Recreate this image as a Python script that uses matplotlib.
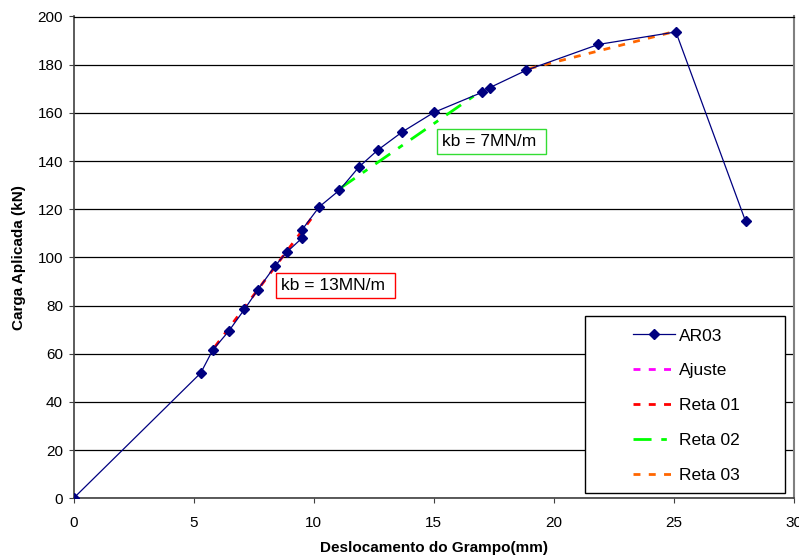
import matplotlib
matplotlib.use("Agg")
import matplotlib.pyplot as plt
from matplotlib.patches import Rectangle

plt.rcParams['font.family'] = ['Liberation Sans', 'DejaVu Sans']

# AR03 measured points
desloc = [0, 5.3, 5.8, 6.47, 7.12, 7.67, 8.4, 8.9, 9.51, 9.51, 10.24, 11.08, 11.9,
          12.67, 13.7, 15.02, 17.02, 17.35, 18.87, 21.87, 25.1, 28.0]
carga = [0, 52, 61.5, 69.4, 78.4, 86.4, 96.5, 102.3, 107.9, 111.3, 121, 127.9, 137.6,
         144.5, 152.1, 160.2, 168.5, 170.5, 177.7, 188.4, 193.6, 115.1]

# fitted straight lines (endpoints)
reta01_x = [5.9, 9.9]
reta01_y = [63, 116]
reta02_x = [11.1, 16.9]
reta02_y = [128.6, 168.5]
reta03_x = [19.0, 24.9]
reta03_y = [178.4, 193.4]

fig = plt.figure(figsize=(7.99, 5.56), dpi=100)
ax = fig.add_axes([73.5 / 799, 57.7 / 556, 720 / 799, 481.8 / 556])

ax.plot(desloc, carga, color='#000080', lw=0.9, marker='D', markersize=5.5,
        label='AR03', zorder=3)
ax.plot([], [], color='#ff00ff', lw=2, dashes=(2.5, 3), label='Ajuste')
ax.plot(reta01_x, reta01_y, color='#ff0000', lw=2, dashes=(2.5, 3), label='Reta 01', zorder=2)
ax.plot(reta02_x, reta02_y, color='#00ff00', lw=2, dashes=(6.5, 3.5, 2, 3.5), label='Reta 02', zorder=2)
ax.plot(reta03_x, reta03_y, color='#ff6600', lw=2, dashes=(2.5, 3), label='Reta 03', zorder=2)

ax.set_xlim(0, 30)
ax.set_ylim(0, 200)
ax.set_xticks(range(0, 31, 5))
ax.set_yticks(range(0, 201, 20))
ax.yaxis.grid(True, color='black', lw=0.9)
ax.set_axisbelow(True)
ax.tick_params(labelsize=11, length=3.6, color='#404040')
ax.tick_params(axis='x', pad=9)
ax.tick_params(axis='y', pad=4)
for s in ['left', 'bottom']:
    ax.spines[s].set_color('#404040')
    ax.spines[s].set_linewidth(1.2)
ax.spines['top'].set_color('black')
ax.spines['top'].set_linewidth(0.9)
ax.spines['right'].set_color('#808080')
ax.spines['right'].set_linewidth(1.5)

ax.set_xlabel('Deslocamento do Grampo(mm)', fontsize=11, fontweight='bold', labelpad=8)
ax.set_ylabel('Carga Aplicada (kN)', fontsize=11, fontweight='bold', labelpad=8)

ax.text(8.65, 88.3, 'kb = 13MN/m ', fontsize=12.5, va='center', ha='left',
        bbox=dict(boxstyle='square,pad=0.3', fc='white', ec='#ff0000', lw=1))
ax.text(15.35, 148, 'kb = 7MN/m ', fontsize=12.5, va='center', ha='left',
        bbox=dict(boxstyle='square,pad=0.3', fc='white', ec='#33dd33', lw=1))

# legend frame drawn separately (wide Excel-style box)
ax.add_patch(Rectangle((0.7104, 0.011), 0.2778, 0.368, transform=ax.transAxes,
                       fc='white', ec='black', lw=1, zorder=4))
leg = ax.legend(loc='center left', bbox_to_anchor=((633 - 73.5) / 720, 0.1926),
                fontsize=12.5, frameon=False, labelspacing=1.13, borderpad=0,
                handlelength=2.4, handletextpad=0.25, borderaxespad=0)
leg.set_zorder(5)

fig.savefig('out.png', dpi=100)
